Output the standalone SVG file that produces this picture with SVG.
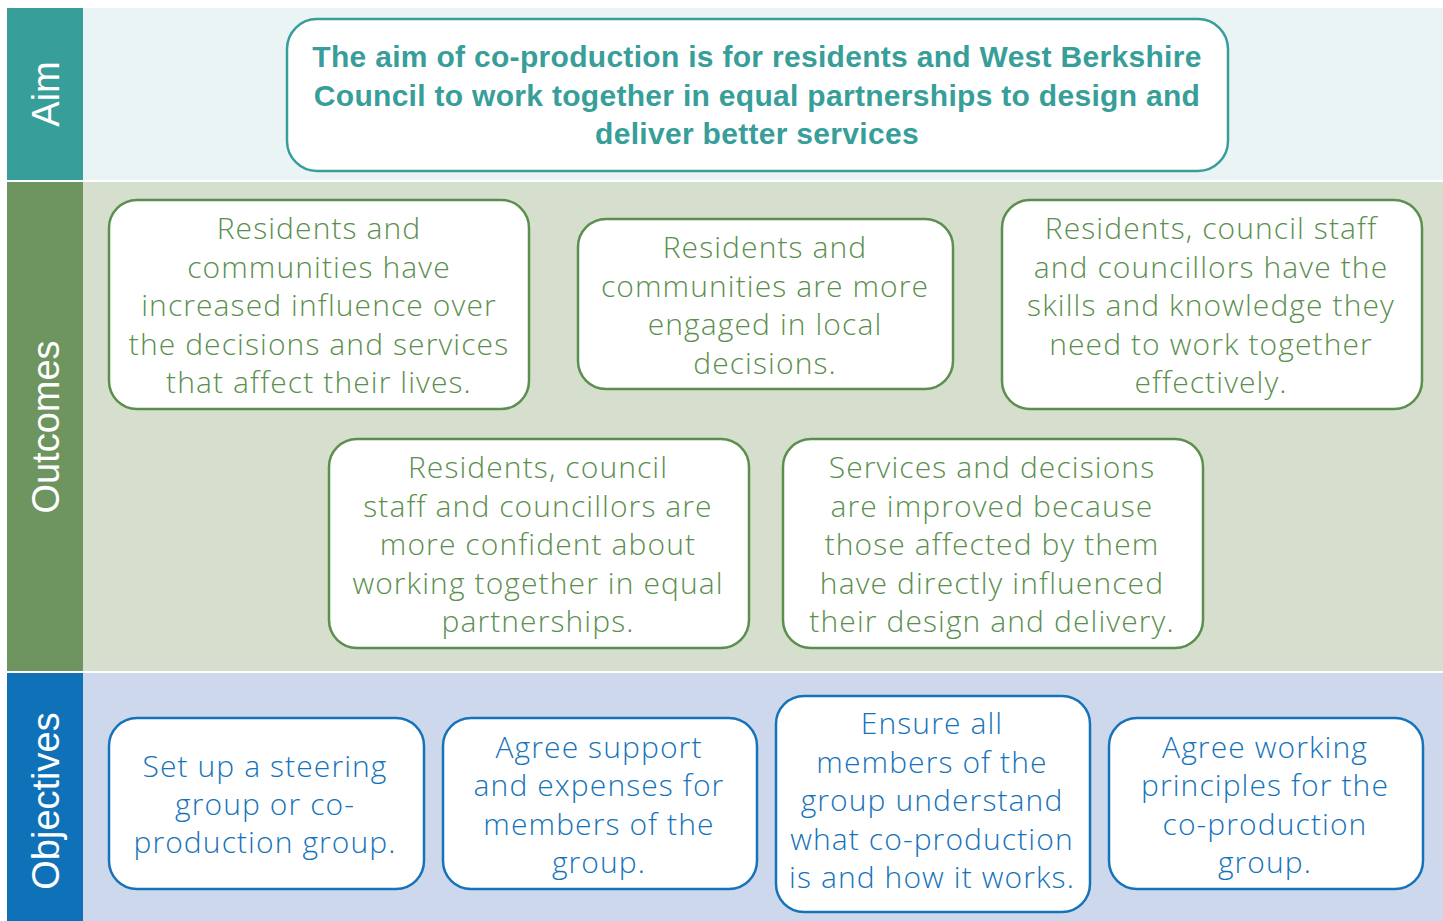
<svg xmlns="http://www.w3.org/2000/svg" width="1443" height="921" viewBox="0 0 1443 921">
<style>
.lbl{font-family:"Liberation Sans",Arial,sans-serif;font-size:38px;fill:#fff;text-anchor:middle}
.aimt{font-family:"Liberation Sans",Arial,sans-serif;font-weight:bold;font-size:30px;letter-spacing:0.3px;fill:#379e99;text-anchor:middle}
.box{fill:#fff;stroke-width:2.5}
.og{stroke:#5b8f4e}
.ob{stroke:#1673b9}
.ot{font-family:"Open Sans","Liberation Sans",sans-serif;font-weight:300;font-size:30px;letter-spacing:1.1px;fill:#5b8f4e;text-anchor:middle}
.bt{font-family:"Open Sans","Liberation Sans",sans-serif;font-weight:300;font-size:30px;letter-spacing:1.1px;fill:#1673b9;text-anchor:middle}
</style>
<rect width="1443" height="921" fill="#fff"/>
<g id="bands">
<rect x="7" y="8" width="76" height="172" fill="#379e99"/>
<rect x="83" y="8" width="1360" height="172" fill="#eaf4f5"/>
<rect x="7" y="182" width="76" height="489" fill="#6e955f"/>
<rect x="83" y="182" width="1360" height="489" fill="#d6dfcd"/>
<rect x="7" y="673" width="76" height="248" fill="#0f72b8"/>
<rect x="83" y="673" width="1360" height="248" fill="#cdd8ec"/>
<text class="lbl" transform="translate(59,94) rotate(-90)">Aim</text>
<text class="lbl" transform="translate(59,427) rotate(-90)">Outcomes</text>
<text class="lbl" transform="translate(59,801) rotate(-90)">Objectives</text>
</g>
<g id="aim">
<rect x="287" y="19" width="941" height="152" rx="30" fill="#fff" stroke="#379e99" stroke-width="2.5"/>
<text class="aimt" x="757" y="67">The aim of co-production is for residents and West Berkshire</text>
<text class="aimt" x="757" y="106">Council to work together in equal partnerships to design and</text>
<text class="aimt" x="757" y="144">deliver better services</text>
</g>
<g id="outcome1">
<rect class="box og" x="109" y="200" width="420" height="209" rx="28"/>
<text class="ot" x="319" y="239">Residents and</text>
<text class="ot" x="319" y="278">communities have</text>
<text class="ot" x="319" y="316">increased influence over</text>
<text class="ot" x="319" y="355">the decisions and services</text>
<text class="ot" x="319" y="393">that affect their lives.</text>
</g>
<g id="outcome2">
<rect class="box og" x="578" y="219" width="375" height="170" rx="28"/>
<text class="ot" x="765" y="258">Residents and</text>
<text class="ot" x="765" y="297">communities are more</text>
<text class="ot" x="765" y="335">engaged in local</text>
<text class="ot" x="765" y="374">decisions.</text>
</g>
<g id="outcome3">
<rect class="box og" x="1002" y="200" width="420" height="209" rx="28"/>
<text class="ot" x="1211" y="239">Residents, council staff</text>
<text class="ot" x="1211" y="278">and councillors have the</text>
<text class="ot" x="1211" y="316">skills and knowledge they</text>
<text class="ot" x="1211" y="355">need to work together</text>
<text class="ot" x="1211" y="393">effectively.</text>
</g>
<g id="outcome4">
<rect class="box og" x="329" y="439" width="420" height="209" rx="28"/>
<text class="ot" x="538" y="478">Residents, council</text>
<text class="ot" x="538" y="517">staff and councillors are</text>
<text class="ot" x="538" y="555">more confident about</text>
<text class="ot" x="538" y="594">working together in equal</text>
<text class="ot" x="538" y="632">partnerships.</text>
</g>
<g id="outcome5">
<rect class="box og" x="783" y="439" width="420" height="209" rx="28"/>
<text class="ot" x="992" y="478">Services and decisions</text>
<text class="ot" x="992" y="517">are improved because</text>
<text class="ot" x="992" y="555">those affected by them</text>
<text class="ot" x="992" y="594">have directly influenced</text>
<text class="ot" x="992" y="632">their design and delivery.</text>
</g>
<g id="objective1">
<rect class="box ob" x="109" y="718" width="315" height="171" rx="28"/>
<text class="bt" x="265" y="777">Set up a steering</text>
<text class="bt" x="265" y="815">group or co-</text>
<text class="bt" x="265" y="853">production group.</text>
</g>
<g id="objective2">
<rect class="box ob" x="443" y="718" width="314" height="171" rx="28"/>
<text class="bt" x="599" y="758">Agree support</text>
<text class="bt" x="599" y="796">and expenses for</text>
<text class="bt" x="599" y="835">members of the</text>
<text class="bt" x="599" y="873">group.</text>
</g>
<g id="objective3">
<rect class="box ob" x="776" y="696" width="314" height="216" rx="28"/>
<text class="bt" x="932" y="734">Ensure all</text>
<text class="bt" x="932" y="773">members of the</text>
<text class="bt" x="932" y="811">group understand</text>
<text class="bt" x="932" y="850">what co-production</text>
<text class="bt" x="932" y="888">is and how it works.</text>
</g>
<g id="objective4">
<rect class="box ob" x="1109" y="718" width="314" height="171" rx="28"/>
<text class="bt" x="1265" y="758">Agree working</text>
<text class="bt" x="1265" y="796">principles for the</text>
<text class="bt" x="1265" y="835">co-production</text>
<text class="bt" x="1265" y="873">group.</text>
</g>
<g id="connectors"/>
</svg>
